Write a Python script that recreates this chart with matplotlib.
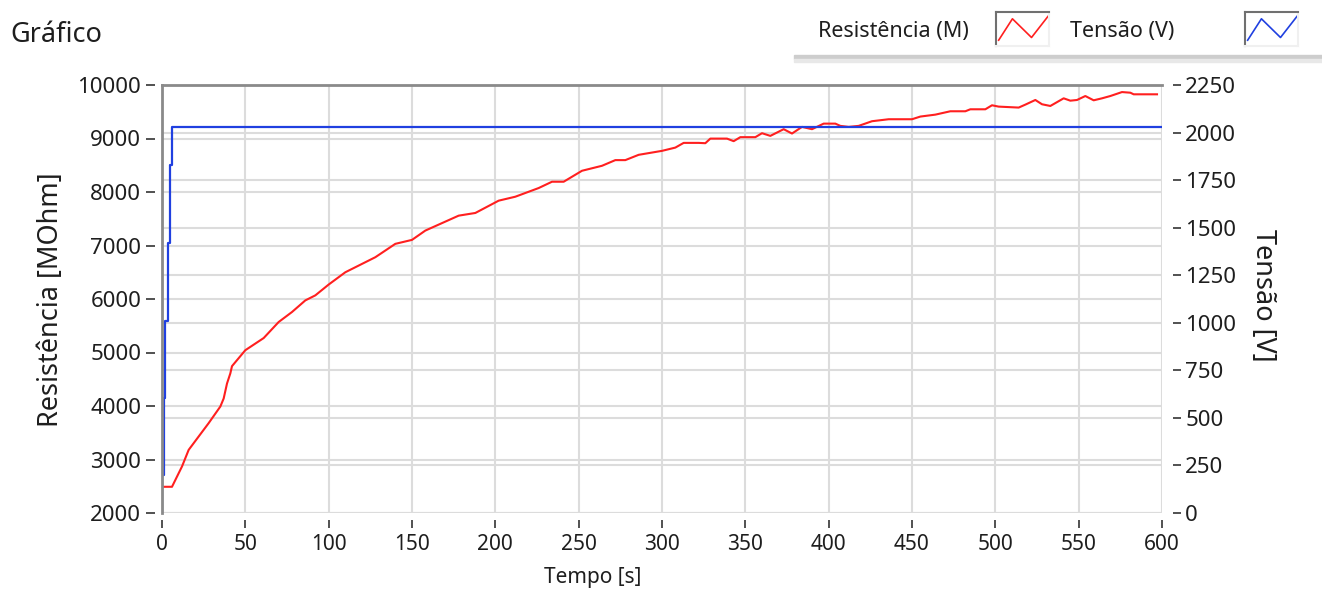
import matplotlib
matplotlib.use('Agg')
import matplotlib.pyplot as plt
from matplotlib.patches import Rectangle

plt.rcParams['font.family'] = ['Noto Sans', 'DejaVu Sans']

# dados
tempo_res = [0, 6, 12, 16, 22, 28, 35, 37, 39, 41, 42, 50, 56, 61, 70, 78, 86, 92,
             100, 110, 128, 140, 150, 158, 178, 188, 202, 212, 226, 234, 241, 252,
             264, 272, 278, 286, 300, 308, 313, 322, 326, 329, 339, 343, 347, 356,
             360, 365, 373, 378, 384, 390, 397, 404, 407, 412, 418, 426, 436, 450,
             455, 464, 473, 482, 485, 494, 498, 502, 514, 518, 524, 528, 533, 541,
             545, 549, 554, 559, 564, 569, 576, 581, 583, 597]
resistencia = [2490, 2490, 2870, 3180, 3430, 3680, 3990, 4140, 4420, 4610, 4745, 5043,
               5167, 5270, 5570, 5757, 5974, 6068, 6270, 6500, 6781, 7031, 7105, 7279,
               7558, 7608, 7838, 7912, 8074, 8192, 8192, 8397, 8490, 8596, 8596, 8695,
               8769, 8830, 8918, 8918, 8912, 8998, 8998, 8950, 9025, 9025, 9099, 9049,
               9174, 9093, 9217, 9174, 9278, 9278, 9236, 9217, 9236, 9323, 9360, 9360,
               9410, 9446, 9509, 9509, 9546, 9546, 9621, 9596, 9578, 9633, 9720, 9640,
               9608, 9751, 9707, 9720, 9794, 9714, 9751, 9794, 9868, 9856, 9826, 9826]

tempo_v = [0, 0, 1, 2, 3.5, 4.5, 6, 600]
tensao = [0, 200, 605, 1010, 1420, 1830, 2030, 2030]

x_ticks = list(range(0, 601, 50))
res_ticks = list(range(2000, 10001, 1000))
v_ticks = list(range(0, 2251, 250))

vermelho = '#ff1f1f'
azul = '#2040e0'
grade = '#dcdcdc'
moldura = '#8a8a8a'
texto = '#1e1e1e'

W, H = 1322, 603
fig = plt.figure(figsize=(W / 100, H / 100), dpi=100)
fig.patch.set_facecolor('white')

ax = fig.add_axes([162 / W, 1 - 513 / H, 1000 / W, 428 / H])
ax2 = ax.twinx()

ax.set_xlim(0, 600)
ax.set_ylim(2000, 10000)
ax2.set_ylim(0, 2250)

ax.set_xticks(x_ticks)
ax.set_yticks(res_ticks)
ax2.set_yticks(v_ticks)

ax.grid(True, color=grade, linewidth=1.5)
ax2.grid(True, axis='y', color=grade, linewidth=1.5, zorder=0)
ax.set_axisbelow(True)
ax2.set_axisbelow(True)

# linhas (a vermelha vai no ax2 para ficar sobre a grade)
ax2.plot(tempo_res, resistencia, color=vermelho, linewidth=1.5,
         transform=ax.transData, zorder=3)
ax2.plot(tempo_v, tensao, color=azul, linewidth=1.6, drawstyle='steps-post', zorder=4)

# moldura: so topo e esquerda em cinza, marcas destacadas
for a in (ax, ax2):
    for s in a.spines.values():
        s.set_color('none')
ax.spines['left'].set_position(('outward', 5))
ax.spines['bottom'].set_position(('outward', 5))
ax2.spines['right'].set_position(('outward', 8))
ax2.plot([0, 1], [1, 1], transform=ax2.transAxes, color=moldura, linewidth=2,
         clip_on=False, zorder=5)
ax2.plot([0, 0], [0, 1], transform=ax2.transAxes, color=moldura, linewidth=2,
         clip_on=False, zorder=5)

ax.tick_params(axis='y', direction='out', length=6.5, width=1.2, color='#333333',
               labelsize=16, labelcolor=texto, pad=3.5)
ax.tick_params(axis='x', direction='out', length=6, width=1.2, color='#333333',
               labelsize=15, labelcolor=texto, pad=4)
ax2.tick_params(axis='y', direction='out', length=6, width=1.2, color='#333333',
                labelsize=16, labelcolor=texto, pad=2.7)

fig.text(51 / W, 1 - 300 / H, 'Resistência [MOhm]', rotation=90, ha='center',
         va='center', fontsize=19.5, color=texto)
fig.text(1263 / W, 1 - 295 / H, 'Tensão [V]', rotation=-90, ha='center',
         va='center', fontsize=19.5, color=texto)
fig.text(593 / W, 1 - 577 / H, 'Tempo [s]', ha='center', va='center',
         fontsize=15, color=texto)
fig.text(10 / W, 1 - 41.5 / H, 'Gráfico', ha='left', va='baseline',
         fontsize=19.5, color=texto)

# legenda no estilo do painel
fig.text(818 / W, 1 - 37 / H, 'Resistência (M)', ha='left', va='baseline',
         fontsize=15.5, color=texto)
fig.text(1070 / W, 1 - 37 / H, 'Tensão (V)', ha='left', va='baseline',
         fontsize=15.5, color=texto)
fig.patches.append(Rectangle((794 / W, 1 - 59 / H), (W - 794) / W, 4 / H,
                             transform=fig.transFigure, color='#cdcdcd', zorder=0))
fig.patches.append(Rectangle((794 / W, 1 - 62 / H), (W - 794) / W, 3 / H,
                             transform=fig.transFigure, color='#e8e8e8', zorder=0))

zig_x = [0.05, 0.31, 0.67, 0.98]
zig_y = [0.17, 0.80, 0.25, 0.87]
for x0, cor in ((996, vermelho), (1245, azul)):
    icon = fig.add_axes([x0 / W, 1 - 46 / H, 53 / W, 34 / H])
    icon.plot(zig_x, zig_y, color=cor, linewidth=1.2)
    icon.set_xlim(0, 1)
    icon.set_ylim(0, 1)
    icon.set_xticks([])
    icon.set_yticks([])
    icon.spines['left'].set_color('#707070')
    icon.spines['top'].set_color('#707070')
    icon.spines['right'].set_color('#f0f0f0')
    icon.spines['bottom'].set_color('#f0f0f0')
    for s in icon.spines.values():
        s.set_linewidth(1.5)

fig.savefig('out.png', dpi=100)
